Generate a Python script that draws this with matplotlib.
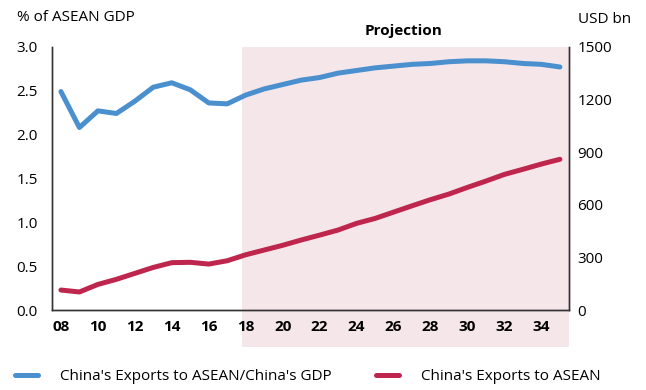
import matplotlib
matplotlib.use("Agg")
import matplotlib.pyplot as plt
from matplotlib.patches import Rectangle

plt.rcParams['font.family'] = ['Open Sans', 'DejaVu Sans']

years = list(range(2008, 2036))
# China's exports to ASEAN / China's GDP (% of ASEAN GDP, left axis)
share_gdp = [2.49, 2.08, 2.27, 2.24, 2.38, 2.54, 2.59, 2.51, 2.36, 2.35,
             2.45, 2.52, 2.57, 2.62, 2.65, 2.70, 2.73, 2.76, 2.78, 2.80,
             2.81, 2.83, 2.84, 2.84, 2.83, 2.81, 2.80, 2.77]
# China's exports to ASEAN (USD bn, right axis)
exports_usd = [114, 103, 146, 175, 209, 243, 270, 272, 262, 281,
               315, 342, 369, 399, 427, 456, 494, 522, 558, 594,
               629, 661, 699, 735, 773, 802, 832, 859]
xtick_years = list(range(2008, 2036, 2))
xtick_labels = ["%02d" % (y % 100) for y in xtick_years]
left_ticks = [0.0, 0.5, 1.0, 1.5, 2.0, 2.5, 3.0]
right_ticks = [0, 300, 600, 900, 1200, 1500]
proj_start = 2017.8

blue = '#4a8fce'
red = '#bf264e'
shade = '#f5e6ea'
spine_c = '#333333'
fs = 11

fig = plt.figure(figsize=(6.46, 3.90), dpi=100)
ax = fig.add_axes([0.080, 0.205, 0.801, 0.675])
ax2 = ax.twinx()

ax.set_xlim(2007.5, 2035.5)
ax.set_ylim(0, 3.0)
ax2.set_ylim(0, 1500)

# projection band, runs a little below the x axis
band = Rectangle((proj_start, -0.14), 2035.5 - proj_start, 1.14,
                 transform=ax.get_xaxis_transform(), facecolor=shade,
                 edgecolor='none', clip_on=False, zorder=0)
ax.add_patch(band)
ax.text((proj_start + 2035.5) / 2 - 0.1, 1.035, "Projection", transform=ax.get_xaxis_transform(),
        ha='center', va='bottom', fontsize=fs, fontweight='bold')

l1, = ax.plot(years, share_gdp, color=blue, lw=3.6, solid_capstyle='round',
              solid_joinstyle='round', zorder=3)
l2, = ax2.plot(years, exports_usd, color=red, lw=3.6, solid_capstyle='round',
               solid_joinstyle='round', zorder=3)

ax.set_xticks(xtick_years)
ax.set_xticklabels(xtick_labels, fontweight='bold')
ax.set_yticks(left_ticks)
ax.set_yticklabels(["%.1f" % v for v in left_ticks])
ax2.set_yticks(right_ticks)

ax.tick_params(axis='x', length=0, pad=7, labelsize=fs)
ax.tick_params(axis='y', length=0, pad=10, labelsize=fs)
ax2.tick_params(axis='y', length=0, pad=6, labelsize=fs)

for a in (ax, ax2):
    a.spines['top'].set_visible(False)
    for s in ('left', 'right', 'bottom'):
        a.spines[s].set_color(spine_c)
        a.spines[s].set_linewidth(1.0)
ax.set_zorder(ax2.get_zorder() - 1)
ax2.patch.set_visible(False)
ax.patch.set_visible(False)

fig.text(0.026, 0.955, "% of ASEAN GDP", fontsize=fs, ha='left', va='center')
fig.text(0.895, 0.950, "USD bn", fontsize=fs, ha='left', va='center')

fig.legend([l1, l2], ["China's Exports to ASEAN/China's GDP", "China's Exports to ASEAN"],
           loc='center left', bbox_to_anchor=(0.023, 0.035), ncol=2, frameon=False,
           fontsize=fs, handlelength=1.5, handletextpad=1.45, columnspacing=2.9,
           borderpad=0, borderaxespad=0)

fig.savefig("out.png", dpi=100)
